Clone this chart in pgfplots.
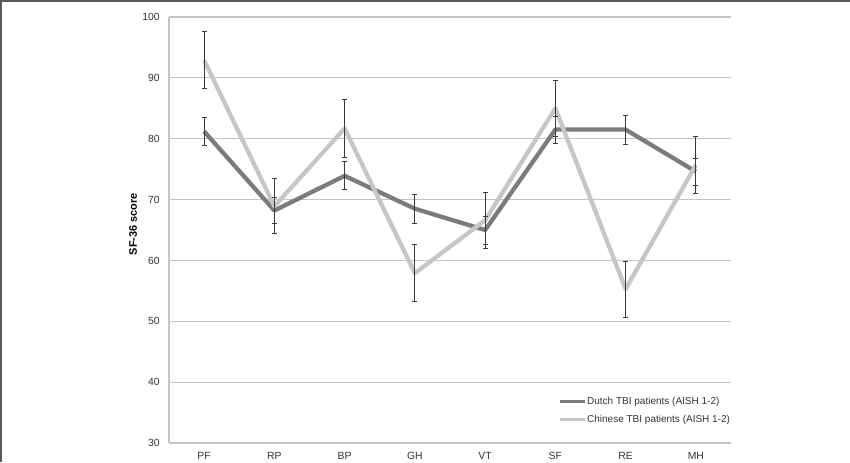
\documentclass[border=0pt]{standalone}
\usepackage{pgfplots}
\pgfplotsset{compat=1.18}
\usepackage{fontspec}
\setmainfont{Liberation Sans}
\definecolor{darkline}{HTML}{7B7B7B}
\definecolor{lightline}{HTML}{C6C6C6}
\definecolor{errc}{HTML}{3A3A3A}
\definecolor{gridc}{HTML}{C4C4C4}
\definecolor{framec}{HTML}{5A5A5A}
\definecolor{txt}{HTML}{333333}
\begin{document}
\begin{tikzpicture}
\path[use as bounding box] (0pt,0pt) rectangle (637.5pt,346.5pt);
\draw[framec, line width=1.5pt] (0.75pt,0pt) -- (0.75pt,345.75pt) -- (637.5pt,345.75pt);
\begin{axis}[
  at={(126.75pt,14.25pt)}, anchor=south west,
  scale only axis, width=421.5pt, height=319.5pt,
  xmin=0, xmax=8, ymin=30, ymax=100,
  xtick={0.5,1.5,2.5,3.5,4.5,5.5,6.5,7.5},
  xticklabels={PF,RP,BP,GH,VT,SF,RE,MH},
  ytick={30,40,50,60,70,80,90,100},
  /pgf/number format/assume math mode=true,
  major tick length=0pt,
  axis x line*=bottom, axis y line*=left,
  axis line style={draw=gridc, line width=1pt, -},
  ymajorgrids, grid style={draw=gridc, line width=0.9pt},
  tick label style={font=\fontsize{7.8}{9}\selectfont, text=txt},
  xticklabel style={anchor=center, inner sep=0pt, yshift=-9.75pt},
  yticklabel style={anchor=east, inner sep=0pt, xshift=-6.75pt},
  ylabel={SF-36 score},
  ylabel style={at={(axis description cs:-0.064,0.514)}, anchor=center, font=\bfseries\fontsize{8.2}{9}\selectfont, text=black},
  legend style={at={(axis description cs:0.692,0.111)}, anchor=north west, draw=none, fill=none, inner sep=0pt,
    font=\fontsize{7.5}{9}\selectfont, text=txt, row sep=4.75pt,
    nodes={inner sep=0.5pt, text height=6pt, text depth=1.5pt, anchor=west}},
  legend cell align=left,
  legend image code/.code={\draw[#1, line width=2.5pt] (0pt,0pt) -- (18.75pt,0pt);},
]
\addplot[darkline, line width=3.2pt, line join=round] coordinates {
(0.5,81.2) (1.5,68.2) (2.5,73.9) (3.5,68.5) (4.5,65.0) (5.5,81.5) (6.5,81.5) (7.5,74.6)};
\addlegendentry{Dutch TBI patients (AISH 1-2)}
\addplot[lightline, line width=3.2pt, line join=round] coordinates {
(0.5,92.9) (1.5,68.9) (2.5,81.7) (3.5,57.9) (4.5,66.6) (5.5,85.0) (6.5,55.3) (7.5,75.7)};
\addlegendentry{Chinese TBI patients (AISH 1-2)}
\addplot[draw=none, forget plot, error bars/.cd, y dir=both, y explicit,
  error bar style={draw=errc, line width=0.7pt, solid},
  error mark options={draw=errc, line width=0.7pt, mark size=1.9pt, rotate=90}] coordinates {
(0.5,81.2) +- (0,2.3)
(1.5,68.2) +- (0,2.2)
(2.5,73.9) +- (0,2.3)
(3.5,68.5) +- (0,2.4)
(4.5,65.0) +- (0,2.3)
(5.5,81.5) +- (0,2.2)
(6.5,81.5) +- (0,2.4)
(7.5,74.6) +- (0,2.2)};
\addplot[draw=none, forget plot, error bars/.cd, y dir=both, y explicit,
  error bar style={draw=errc, line width=0.7pt, solid},
  error mark options={draw=errc, line width=0.7pt, mark size=1.9pt, rotate=90}] coordinates {
(0.5,92.9) +- (0,4.7)
(1.5,68.9) +- (0,4.5)
(2.5,81.7) +- (0,4.7)
(3.5,57.9) +- (0,4.7)
(4.5,66.6) +- (0,4.6)
(5.5,85.0) +- (0,4.6)
(6.5,55.3) +- (0,4.6)
(7.5,75.7) +- (0,4.7)};
\end{axis}
\end{tikzpicture}
\end{document}
